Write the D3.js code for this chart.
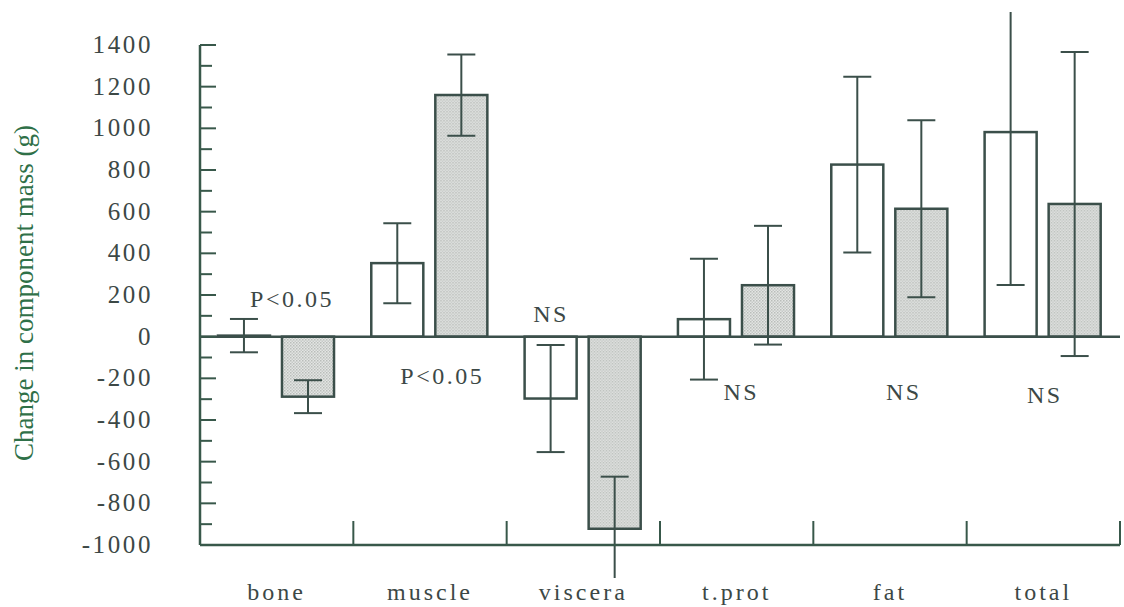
<!DOCTYPE html>
<html>
<head>
<meta charset="utf-8">
<script src="https://cdn.jsdelivr.net/npm/d3@7"></script>
<style>
  body { margin: 0; background: #fff; }
</style>
</head>
<body>
<svg id="chart" width="1124" height="607"></svg>
<script>
// categories and the two groups (open bars, shaded bars)
const categories = ["bone", "muscle", "viscera", "t.prot", "fat", "total"];
const openValues = [5, 353, -297, 84, 826, 982];
const openErrors = [80, 192, 257, 290, 422, 734];
const shadedValues = [-288, 1160, -922, 247, 614, 637];
const shadedErrors = [79, 195, 250, 285, 425, 730];
const yTickValues = [-1000, -800, -600, -400, -200, 0, 200, 400, 600, 800, 1000, 1200, 1400];
const annotations = [
  { cat: "bone", pos: 0.6, y: 143, text: "P<0.05" },
  { cat: "muscle", pos: 0.58, y: -227, text: "P<0.05" },
  { cat: "viscera", pos: 0.29, y: 70, text: "NS" },
  { cat: "t.prot", pos: 0.53, y: -304, text: "NS" },
  { cat: "fat", pos: 0.59, y: -304, text: "NS" },
  { cat: "total", pos: 0.51, y: -320, text: "NS" }
];

const FONT = "'Liberation Serif', 'Times New Roman', Times, 'DejaVu Serif', serif";
const LINE = "#3b4f4a";
const AXIS = "#38584a";
const TEXT = "#3c4846";

const svg = d3.select("#chart").attr("font-family", FONT);

const x = d3.scaleBand().domain(categories).range([200, 1120]);
const y = d3.scaleLinear().domain([-1000, 1400]).range([545, 45]);
const bw = x.bandwidth();
const inner = d3.scaleBand().domain(["open", "shaded"])
  .range([bw * 0.117, bw * 0.874]).paddingInner(0.1875);

const rows = categories.map((c, i) => ({
  cat: c,
  groups: [
    { key: "open", value: openValues[i], err: openErrors[i] },
    { key: "shaded", value: shadedValues[i], err: shadedErrors[i] }
  ]
}));

// hatch pattern for shaded bars
const defs = svg.append("defs");
const pat = defs.append("pattern").attr("id", "hatch")
  .attr("width", 3).attr("height", 3).attr("patternUnits", "userSpaceOnUse");
pat.append("rect").attr("width", 3).attr("height", 3).attr("fill", "#e3e5e3");
pat.append("rect").attr("width", 1.5).attr("height", 1.5).attr("fill", "#b9bdba");
pat.append("rect").attr("x", 1.5).attr("y", 1.5).attr("width", 1.5).attr("height", 1.5).attr("fill", "#c6c9c7");

defs.append("clipPath").attr("id", "errclip")
  .append("rect").attr("x", 0).attr("y", 12).attr("width", 1124).attr("height", 566);

// bars
const groups = svg.append("g").selectAll("g.cat").data(rows).join("g")
  .attr("class", "cat")
  .attr("transform", d => `translate(${x(d.cat)},0)`);

groups.selectAll("rect").data(d => d.groups).join("rect")
  .attr("x", d => inner(d.key))
  .attr("width", inner.bandwidth())
  .attr("y", d => y(Math.max(0, d.value)))
  .attr("height", d => Math.abs(y(d.value) - y(0)))
  .attr("fill", d => d.key === "shaded" ? "url(#hatch)" : "#fff")
  .attr("stroke", LINE)
  .attr("stroke-width", 2.5);

// error bars
const errs = groups.append("g").attr("clip-path", "url(#errclip)")
  .selectAll("g").data(d => d.groups).join("g")
  .attr("transform", d => `translate(${inner(d.key) + inner.bandwidth() / 2},0)`)
  .attr("stroke", LINE).attr("stroke-width", 2);
errs.append("line")
  .attr("y1", d => y(d.value + d.err)).attr("y2", d => y(d.value - d.err));
errs.append("line").attr("x1", -14).attr("x2", 14)
  .attr("y1", d => y(d.value + d.err)).attr("y2", d => y(d.value + d.err));
errs.append("line").attr("x1", -14).attr("x2", 14)
  .attr("y1", d => y(d.value - d.err)).attr("y2", d => y(d.value - d.err));

// zero line
svg.append("line")
  .attr("x1", 200).attr("x2", 1120).attr("y1", y(0)).attr("y2", y(0))
  .attr("stroke", LINE).attr("stroke-width", 2.5);

// y axis: line, inward ticks, labels
const yAxis = svg.append("g");
yAxis.append("line").attr("x1", 200).attr("x2", 200)
  .attr("y1", y(1400)).attr("y2", y(-1000))
  .attr("stroke", AXIS).attr("stroke-width", 2.5);
yAxis.selectAll("line.minor").data(d3.range(-900, 1400, 200)).join("line")
  .attr("class", "minor")
  .attr("x1", 200).attr("x2", 212).attr("y1", d => y(d)).attr("y2", d => y(d))
  .attr("stroke", AXIS).attr("stroke-width", 2);
yAxis.selectAll("line.major").data(yTickValues.filter(v => v !== -1000)).join("line")
  .attr("class", "major")
  .attr("x1", 200).attr("x2", 216).attr("y1", d => y(d)).attr("y2", d => y(d))
  .attr("stroke", AXIS).attr("stroke-width", 2);
yAxis.selectAll("text").data(yTickValues).join("text")
  .attr("x", 153).attr("y", d => y(d) + 8)
  .attr("text-anchor", "end")
  .attr("font-size", 25).attr("letter-spacing", 2.6)
  .attr("fill", TEXT)
  .text(d => d);

// x axis: bottom line with separator ticks
const xAxis = svg.append("g");
xAxis.append("line").attr("x1", 200).attr("x2", 1120)
  .attr("y1", y(-1000)).attr("y2", y(-1000))
  .attr("stroke", AXIS).attr("stroke-width", 2.5);
xAxis.selectAll("line.sep").data(categories).join("line")
  .attr("class", "sep")
  .attr("x1", d => x(d) + bw).attr("x2", d => x(d) + bw)
  .attr("y1", y(-1000)).attr("y2", y(-1000) - 24)
  .attr("stroke", AXIS).attr("stroke-width", 2);
xAxis.selectAll("text").data(categories).join("text")
  .attr("x", d => x(d) + bw / 2).attr("y", 600)
  .attr("text-anchor", "middle")
  .attr("font-size", 24).attr("letter-spacing", 3)
  .attr("fill", TEXT)
  .text(d => d);

// y axis title
svg.append("text")
  .attr("transform", "translate(33,293) rotate(-90)")
  .attr("text-anchor", "middle")
  .attr("font-size", 27)
  .attr("fill", "#2f7048")
  .text("Change in component mass (g)");

// significance labels
svg.append("g").selectAll("text").data(annotations).join("text")
  .attr("x", d => x(d.cat) + bw * d.pos)
  .attr("y", d => y(d.y))
  .attr("text-anchor", "middle")
  .attr("font-size", 24).attr("letter-spacing", 2.5)
  .attr("fill", TEXT)
  .text(d => d.text);
</script>
</body>
</html>
